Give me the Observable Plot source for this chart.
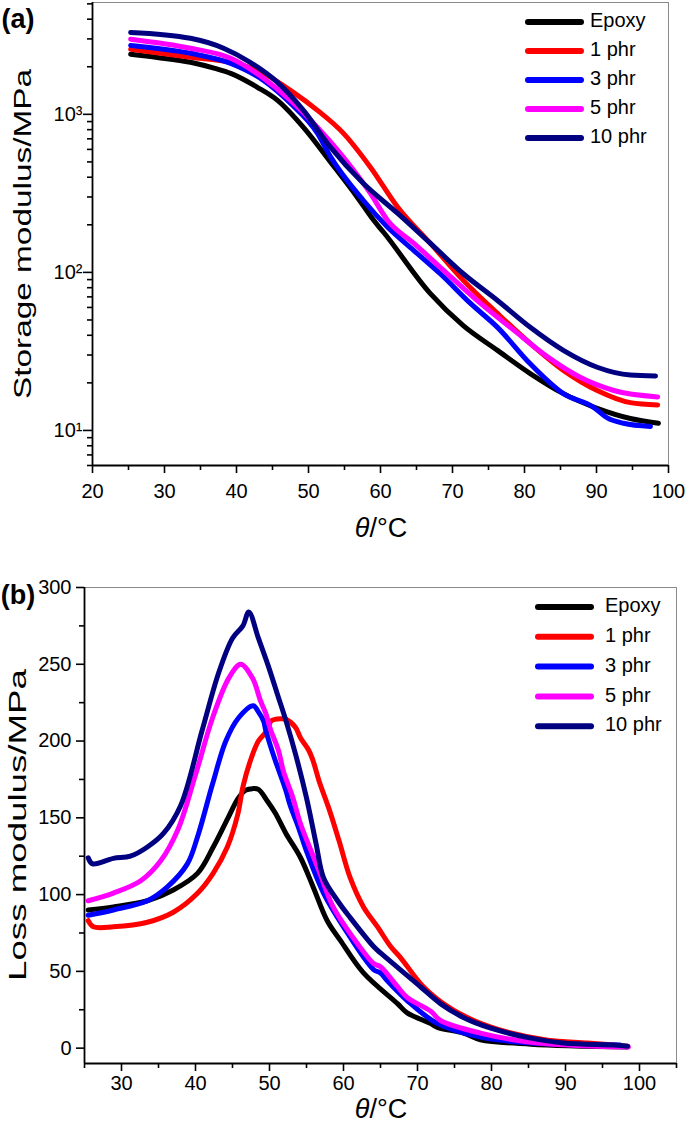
<!DOCTYPE html>
<html><head><meta charset="utf-8">
<script src="https://cdn.jsdelivr.net/npm/d3@7"></script>
<script src="https://cdn.jsdelivr.net/npm/@observablehq/plot@0.6"></script>
<style>
body{margin:0;background:#fff;font-family:"Liberation Sans",Arial,Helvetica,sans-serif;}
#wrap{position:relative;width:685px;height:1130px;overflow:hidden;}
#wrap svg{display:block;}
</style></head><body><div id="wrap"></div>
<script>
const series = ["Epoxy","1 phr","3 phr","5 phr","10 phr"];
const colors = ["#000000","#ff0000","#0000ff","#ff00ff","#000080"];

// (a) storage modulus, [θ/°C, MPa]
const storageEpoxy = [[25.3,2400],[29,2290],[33.6,2134],[37,1953],[39.2,1816],[42.9,1483],[45.7,1226],[49.3,827],[53.05,500],[56.8,298],[59,215],[60.4,180],[66.9,73.6],[71.5,46],[76.25,32.1],[80.8,22.9],[85.4,17.1],[90.1,13.8],[94.7,11.9],[98.6,11.1]];
const storage1 = [[25.3,2580],[33.6,2297],[39.2,2134],[43.75,1816],[47.5,1419],[51.25,1060],[54.86,758],[58.6,463],[62.4,258],[66.9,153],[71.5,89],[76.25,55],[80.8,35.5],[85.4,24],[90.1,17.9],[94.7,15.0],[98.5,14.5]];
const storage3 = [[25.3,2730],[33.6,2433],[39.2,2100],[43.75,1640],[47.5,1175],[51.25,758],[53.05,540],[57.6,286],[61,193],[64.6,138],[68.3,98],[72.5,63.6],[76.25,44.9],[80.8,26.4],[85.4,17.1],[89.6,14],[91.5,12],[93.75,11.1],[97.5,10.6]];
const storage5 = [[25.3,2990],[33.6,2620],[39.2,2262],[43.75,1692],[47.5,1226],[51.25,827],[54.86,535],[58.6,316],[61,213],[64.6,153],[69.3,98],[73.9,63.6],[78.5,43.1],[83.2,29.2],[87.8,21.6],[92.4,17.9],[98.5,16.3]];
const storage10 = [[25.3,3300],[33.6,3027],[38.2,2620],[41.9,2134],[45.7,1594],[49.3,1060],[53.05,620],[57.6,366],[62.4,236],[66.9,153],[71.5,98],[76.25,66.4],[80.8,44.9],[85.4,32.1],[90.1,25.1],[94.7,22.4],[98.2,22.1]];

// (b) loss modulus, [θ/°C, MPa]
const lossEpoxy = [[25.5,90],[28.9,92],[33.5,96],[37,103],[40.3,114],[42.4,131],[44.4,150],[45.8,163],[46.8,168],[47.7,169],[48.5,168.5],[49.7,161],[50.8,153],[52.2,140],[54.2,124],[55.9,105],[57.8,83],[59.6,70],[62.7,49],[67.3,29],[68.6,23],[71.8,16],[72.7,13.5],[76.2,9.8],[78.5,5.5],[85.3,2.6],[98.4,0.7]];
const loss1 = [[25.5,83],[26.2,79],[28.9,79],[33.5,82],[37,88.5],[40.3,101],[42.4,114],[44.3,131],[45.7,152],[46.4,170],[47.4,187],[48.5,200],[49.7,207],[50.2,213],[51.5,214.5],[52.3,214],[53.5,209],[54.2,202],[55.3,194],[55.9,187],[56.7,174],[58.1,155],[59.4,135],[60.9,111],[62.7,92],[64.6,79],[66.4,66],[67.7,59],[70.8,40],[74.1,27],[77.6,18],[82.2,10.4],[87.6,5.2],[93,3.3],[98.4,1.3]];
const loss3 = [[25.5,86.5],[28.9,90],[33.5,96],[36.2,105],[38.9,120],[40.3,138],[42.3,172],[44.1,200],[45.8,215],[47.8,223],[48.5,219],[49.2,213],[49.5,207],[50.8,187],[51.1,183],[52.2,168],[52.8,158],[53.9,144],[55.1,127],[57.3,101],[60,79],[64.1,51],[65,49],[65.9,44],[68.6,31],[72.7,16],[78.5,7.2],[85.3,3.3],[97.4,2]];
const loss5 = [[25.5,96],[28.9,101],[32.6,109],[35.3,122],[37.6,142],[40,178],[42.3,215],[44.5,241],[46.1,250],[47.7,241],[48.8,226],[49.5,218],[50.1,208],[51.2,194],[51.9,180],[53.1,164],[54.2,146],[56.5,118],[58.6,92],[61.9,68],[64.1,55],[65,53],[67.3,40],[68.6,33],[71.8,24],[73.1,18],[78.5,9.8],[85.3,3.9],[98.5,0.7]];
const loss10 = [[25.5,124],[26.1,120],[28.9,123.6],[31.2,125],[33.5,131],[35.7,140],[38,158],[40.9,207],[43.1,244],[45,267],[46.4,275],[47.2,284],[48.5,267],[49.9,248],[51.1,230],[52.3,212],[53.6,190],[55,163],[56.3,133],[57.3,111],[59.2,96],[60.9,85],[64.1,66],[65,62],[67.7,51],[70.4,40],[73.1,29],[76.2,20],[79.9,13],[85.3,6.5],[89.7,3.3],[96.5,2],[98.4,1.3]];

// axes
const aXMajor = [20,30,40,50,60,70,80,90,100];
const aXMinor = [25,35,45,55,65,75,85,95];
const aYMajor = [10,100,1000];
const aYLabels = ["10\u00B9","10\u00B2","10\u00B3"];
const aYMinor = [6,7,8,9,20,30,40,50,60,70,80,90,200,300,400,500,600,700,800,900,2000,3000,4000,5000];
const bXMajor = [30,40,50,60,70,80,90,100];
const bXMinor = [25,35,45,55,65,75,85,95,105];
const bYMajor = [0,50,100,150,200,250,300];
const bYMinor = [25,75,125,175,225,275];

const FONT = "'Liberation Sans', Arial, Helvetica, sans-serif";
const toRows = list => list.flatMap((pts,i)=>pts.map(([t,v])=>({t,v,s:series[i]})));
const lineOpts = curve => ({x:"t",y:"v",z:"s",stroke:"s",strokeWidth:5,curve,strokeLinecap:"round",strokeLinejoin:"round"});

const aDom = {x:[20,100], y:[6,5100]};
const plotA = Plot.plot({
  width:685, height:565, marginTop:2, marginBottom:100, marginLeft:92, marginRight:17,
  style:{fontFamily:FONT, fontSize:"20px", color:"#000", background:"#fff", overflow:"visible"},
  x:{domain:aDom.x, label:null}, y:{type:"log", domain:aDom.y, label:null},
  color:{domain:series, range:colors},
  marks:[
    Plot.frame({stroke:"#8a8a8a", strokeWidth:1}),
    Plot.line(toRows([storageEpoxy,storage1,storage3,storage5,storage10]), lineOpts("monotone-x")),
    Plot.ruleX([aDom.x[0]],{stroke:"#000",strokeWidth:1.8}),
    Plot.ruleY([aDom.y[0]],{stroke:"#000",strokeWidth:1.8}),
    Plot.axisX({ticks:aXMajor, tickSize:8, tickPadding:10, strokeWidth:1.6, fontSize:20, tickFormat:d=>String(d)}),
    Plot.axisX({ticks:aXMinor, tickSize:5, strokeWidth:1.6, tickFormat:()=>""}),
    Plot.axisY({ticks:aYMajor, tickSize:9, tickPadding:1, strokeWidth:1.6, fontSize:20, tickFormat:d=>aYLabels[aYMajor.indexOf(d)]}),
    Plot.axisY({ticks:aYMinor, tickSize:5, strokeWidth:1.6, tickFormat:()=>""})
  ]
});

const bDom = {x:[25,105], y:[-10,300]};
const plotB = Plot.plot({
  width:685, height:565, marginTop:22, marginBottom:67, marginLeft:84, marginRight:9,
  style:{fontFamily:FONT, fontSize:"20px", color:"#000", background:"#fff", overflow:"visible"},
  x:{domain:bDom.x, label:null}, y:{domain:bDom.y, label:null},
  color:{domain:series, range:colors},
  marks:[
    Plot.frame({stroke:"#8a8a8a", strokeWidth:1}),
    Plot.line(toRows([lossEpoxy,loss1,loss3,loss5,loss10]), lineOpts("catmull-rom")),
    Plot.ruleX([bDom.x[0]],{stroke:"#000",strokeWidth:1.8}),
    Plot.ruleY([bDom.y[0]],{stroke:"#000",strokeWidth:1.8}),
    Plot.axisX({ticks:bXMajor, tickSize:8, tickPadding:4, strokeWidth:1.6, fontSize:20, tickFormat:d=>String(d)}),
    Plot.axisX({ticks:bXMinor, tickSize:5, strokeWidth:1.6, tickFormat:()=>""}),
    Plot.axisY({ticks:bYMajor, tickSize:8, tickPadding:5, strokeWidth:1.6, fontSize:20, tickFormat:d=>String(d)}),
    Plot.axisY({ticks:bYMinor, tickSize:5, strokeWidth:1.6, tickFormat:()=>""})
  ]
});

const wrap = document.getElementById("wrap");
wrap.appendChild(plotA);
wrap.appendChild(plotB);

function decorate(svg, o){
  const s = d3.select(svg);
  s.append("text").attr("x",o.tag[0]).attr("y",o.tag[1]).attr("text-anchor","middle")
    .attr("dominant-baseline","middle").attr("font-weight","bold").attr("font-size",27)
    .attr("font-family",FONT).text(o.tagText);
  const xl = s.append("text").attr("x",o.xl[0]).attr("y",o.xl[1]).attr("text-anchor","middle")
    .attr("dominant-baseline","middle").attr("font-size",27).attr("font-family",FONT);
  xl.append("tspan").attr("font-style","italic").text("\u03B8");
  xl.append("tspan").text("/\u00B0C");
  s.append("text").attr("transform",`translate(${o.yl[0]},${o.yl[1]}) rotate(-90)`)
    .attr("text-anchor","middle").attr("dominant-baseline","middle").attr("font-size",o.ylSize)
    .attr("textLength",o.ylLen).attr("lengthAdjust","spacingAndGlyphs")
    .attr("font-family",FONT).text(o.ylText);
  const g = s.append("g");
  series.forEach((name,i)=>{
    const y = o.leg.y0 + i*o.leg.dy;
    g.append("line").attr("x1",o.leg.x1).attr("x2",o.leg.x2).attr("y1",y).attr("y2",y)
      .attr("stroke",colors[i]).attr("stroke-width",6).attr("stroke-linecap","round");
    g.append("text").attr("x",o.leg.tx).attr("y",y).attr("text-anchor","start").attr("dominant-baseline","middle")
      .attr("font-size",20).attr("font-family",FONT).text(name);
  });
}
decorate(plotA,{tag:[18,21],tagText:"(a)",xl:[381,530],yl:[25,234],ylSize:23,ylLen:330,ylText:"Storage modulus/MPa",
  leg:{x1:528,x2:581,tx:590,y0:22,dy:29}});
decorate(plotB,{tag:[18,32],tagText:"(b)",xl:[381,546],yl:[20,260],ylSize:23,ylLen:312,ylText:"Loss modulus/MPa",
  leg:{x1:538,x2:591,tx:605,y0:42,dy:29.8}});
</script></body></html>
